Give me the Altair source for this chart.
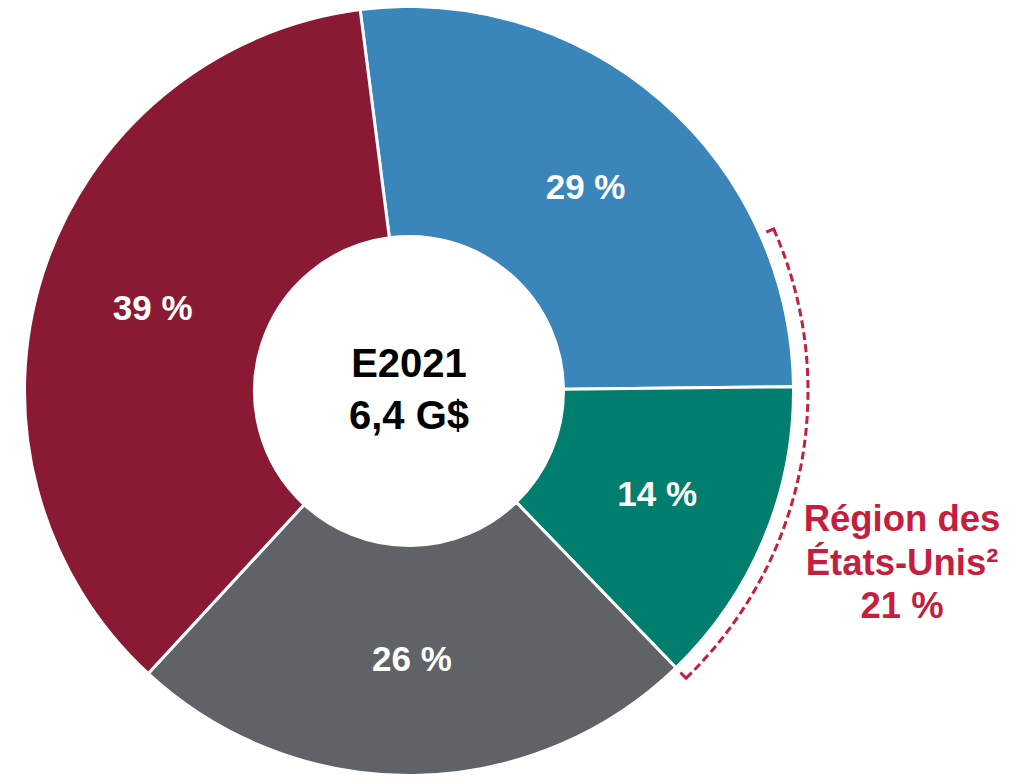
import math
import altair as alt
import pandas as pd

# ---------------- data ----------------
categories = ["Segment 1", "Segment 2", "Segment 3", "Segment 4"]
values = [29, 14, 26, 39]
slice_labels = ["29 %", "14 %", "26 %", "39 %"]
colors = ["#3A86BA", "#017E6E", "#5F6266", "#8A1A33"]
center_lines = ["E2021", "6,4 G$"]
region_lines = ["Région des", "États-Unis²", "21 %"]
region_share = 21
region_last_slice = 1  # bracket ends at the end of the 2nd slice

# ---------------- style / layout ----------------
TEXT_RED = "#C41F3E"
FONT = "Liberation Sans"
W, H = 1010, 768
CX, CY = 401, 383          # centre of the donut inside the view
R_OUT, R_IN = 384.5, 154.5
R_LABEL = 269
R_BRACKET = 399
start_deg = -7.3

total = sum(values)
a0 = math.radians(start_deg)
theta_scale = alt.Scale(domain=[0, total], range=[a0, a0 + 2 * math.pi])
cx, cy = alt.value(CX), alt.value(CY)

df = pd.DataFrame({
    "category": categories,
    "value": values,
    "label": slice_labels,
    "order": list(range(len(values))),
})

base = alt.Chart(df).encode(
    theta=alt.Theta("value:Q", stack=True, scale=theta_scale),
    order=alt.Order("order:Q"),
    x=cx, y=cy,
)

pie = base.mark_arc(radius=R_OUT, radius2=R_IN, stroke="white", strokeWidth=3).encode(
    color=alt.Color("category:N", scale=alt.Scale(domain=categories, range=colors), legend=None)
)

labels = base.mark_text(
    radius=R_LABEL, font=FONT, fontSize=35, fontWeight="bold", color="white",
    align="center", baseline="middle",
).encode(text="label:N")

# dashed bracket around the region share
region_end = sum(values[: region_last_slice + 1])
region_start = region_end - region_share
px_per_unit = 2 * math.pi * R_BRACKET / total
dash_px, gap_px = 8.0, 4.0
span_px = region_share * px_per_unit
n = round((span_px + gap_px) / (dash_px + gap_px))
k = span_px / (n * dash_px + (n - 1) * gap_px)
dash_u = dash_px * k / px_per_unit
period_u = (dash_px + gap_px) * k / px_per_unit

dashes = alt.Chart(alt.sequence(0, n, as_="i")).transform_calculate(
    a=f"{region_start} + datum.i * {period_u}",
    b=f"{region_start} + datum.i * {period_u} + {dash_u}",
).mark_arc(radius=R_BRACKET + 1.5, radius2=R_BRACKET - 1.5, color=TEXT_RED).encode(
    theta=alt.Theta("a:Q", scale=theta_scale, stack=None),
    theta2="b:Q",
    x=cx, y=cy,
)

hooks = alt.Chart(pd.DataFrame({"t": [region_start, region_end]})).mark_arc(
    radius=R_BRACKET + 1.5, radius2=R_BRACKET - 8, stroke=TEXT_RED, strokeWidth=3, fillOpacity=0,
).encode(
    theta=alt.Theta("t:Q", scale=theta_scale, stack=None),
    theta2="t:Q",
    x=cx, y=cy,
)

center = alt.Chart(pd.DataFrame({"k": [0]})).mark_text(
    text=center_lines, font=FONT, fontSize=40, fontWeight="bold", color="black",
    lineHeight=52, align="center", baseline="middle", dy=-26,
).encode(x=cx, y=cy)

region = alt.Chart(pd.DataFrame({"k": [0]})).mark_text(
    text=region_lines, font=FONT, fontSize=36.5, fontWeight="bold", color=TEXT_RED,
    lineHeight=43.5, align="center", baseline="middle",
).encode(x=alt.value(894), y=alt.value(512))

chart = alt.layer(pie, labels, dashes, hooks, center, region).properties(
    width=W, height=H, padding=0, autosize=alt.AutoSizeParams(type="none")
).configure_view(strokeWidth=0)

chart.save("out.html", embed_options={"renderer": "svg", "actions": False})
